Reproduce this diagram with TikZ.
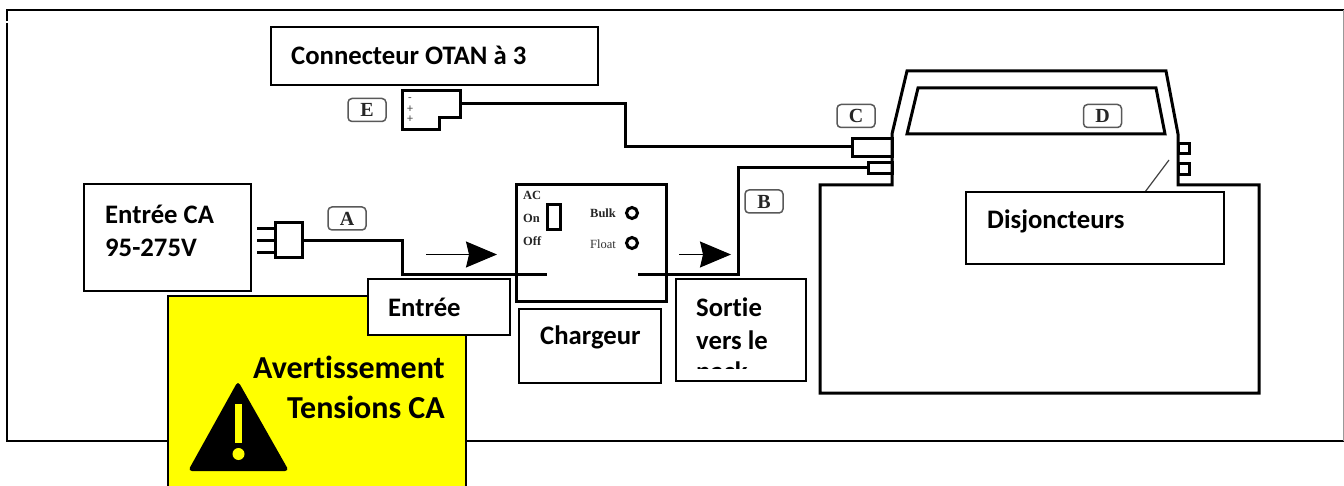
\documentclass[tikz,border=0pt]{standalone}
\usepackage{fontspec}
\setmainfont[Ligatures=NoCommon]{Carlito}
\newfontfamily\serifdraw{Liberation Serif}
\usetikzlibrary{arrows.meta}
\definecolor{warnyellow}{RGB}{255,255,0}
\tikzset{
  x=1pt,y=-1pt,
  wire/.style={line width=3pt,line join=miter},
  thin wire/.style={line width=1.2pt},
  boxlab/.style={draw=black,line width=1.8pt,fill=white},
  lab/.style={font=\bfseries\fontsize{26.7}{30}\selectfont,anchor=west,inner sep=0pt},
  tag/.style={draw=black!65,line width=1.5pt,rounded corners=4pt,minimum width=38pt,minimum height=23pt,inner sep=0pt,font=\serifdraw\bfseries\fontsize{20}{20}\selectfont,text=black!85},
  panel/.style={font=\serifdraw\bfseries\fontsize{12.5}{13}\selectfont,anchor=west,inner sep=0pt,text=black!85},
  lamp/.style={circle,draw=black,line width=3pt,minimum size=11pt,inner sep=0pt},
  flow/.style={thin wire,-{Stealth[length=31pt,width=26pt,inset=3pt]}},
}
\begin{document}
\begin{tikzpicture}
\useasboundingbox (0,0) rectangle (1344,486);
\fill[white] (0,0) rectangle (1344,486);
% frame
\draw[line width=2pt] (1344,10.5) -- (6.5,10.5) -- (6.5,21);
\draw[line width=2pt] (6.5,23) -- (6.5,441) -- (1344,441);
\draw[line width=1.2pt,black!40] (1343.5,10.5) -- (1343.5,441);
% named points
\coordinate (plugR) at (302,241);
\coordinate (chgIn) at (547,275);
\coordinate (chgOut) at (638,275);
\coordinate (connE) at (460,104);
\coordinate (cG) at (852,147);
\coordinate (cB) at (868,168);
% charger
\node[draw,line width=3pt,minimum width=150pt,minimum height=117pt,inner sep=0pt] (charger) at (591,243.5) {};
\node[panel] (tAC) at (523,195) {AC};
\node[panel] (tOn) at (523,218) {On};
\node[panel] (tOff) at (523,241) {Off};
\node[draw,line width=3pt,minimum width=13pt,minimum height=25pt,inner sep=0pt] (switch) at (553.5,217.5) {};
\node[panel] (tBulk) at (590,213) {Bulk};
\node[panel,font=\serifdraw\fontsize{12.5}{13}\selectfont,text=black!80] (tFloat) at (590,244) {Float};
\node[lamp] (bulk) at (632,213) {};
\node[lamp] (float) at (632,243) {};
% plug
\node[draw,line width=3pt,minimum width=27pt,minimum height=35pt,inner sep=0pt] (plug) at (288.5,240.5) {};
\draw[wire] (257,229) -- (275,229) (257,241) -- (275,241) (257,253) -- (275,253);
\draw[wire] (plugR) -- (402,241) -- (402,275) -- (chgIn);
\draw[wire] (chgOut) -- (738,275) -- (738,168) -- (cB);
\draw[wire] (connE) -- (625,104) -- (625,147) -- (cG);
% connector E
\draw[wire,fill=white] (402,91) -- (460,91) -- (460,118) -- (439,118) -- (439,130) -- (402,130) -- cycle;
\node[inner sep=0pt,font=\fontsize{12}{12}\selectfont,text=black!70] (sm) at (410,100) {-};
\node[inner sep=0pt,font=\fontsize{12}{12}\selectfont,text=black!70] (sp1) at (410,109) {+};
\node[inner sep=0pt,font=\fontsize{12}{12}\selectfont,text=black!70] (sp2) at (410,119) {+};
% flow arrows
\coordinate (f1a) at (426,254.5); \coordinate (f1b) at (497,254.5);
\coordinate (f2a) at (679,254.5); \coordinate (f2b) at (731,254.5);
\draw[flow] (f1a) -- (f1b);
\draw[flow] (f2a) -- (f2b);
% pack
\draw[wire] (820,185) -- (892,185) -- (892,134) -- (907,71) -- (1166,71) -- (1178,134) -- (1178,185) -- (1259,185) -- (1259,393) -- (820,393) -- cycle;
\draw[wire] (918,88) -- (1156,88) -- (1165,134) -- (907,134) -- cycle;
\draw[wire] (852,139) rectangle (892,157);
\draw[wire] (868,163) rectangle (892,174);
\draw[wire] (1178,144) rectangle (1189,154);
\draw[wire] (1178,164) rectangle (1189,175);
\coordinate (brk) at (1169,160);
\coordinate (brkEnd) at (1145,192);
\draw[line width=1.2pt,black!75] (brk) -- (brkEnd);
% tags
\node[tag] (A) at (347,218.5) {A};
\node[tag] (B) at (764,201.5) {B};
\node[tag] (C) at (856,116) {C};
\node[tag] (D) at (1102.5,116) {D};
\node[tag] (E) at (367,110) {E};
% warning
\draw[boxlab,fill=warnyellow] (168,296) rectangle (466,500);
\fill[black,rounded corners=4pt] (238,381) -- (289,471) -- (188,471) -- cycle;
\fill[warnyellow] (235,404) rectangle (242,443);
\fill[warnyellow] (238.5,454) circle (6);
\node[font=\bfseries\fontsize{32}{36}\selectfont,anchor=east,inner sep=0pt] (w1) at (445,367) {Avertissement};
\node[font=\bfseries\fontsize{32}{36}\selectfont,anchor=east,inner sep=0pt] (w2) at (445,407) {Tensions CA};
% text boxes
\draw[boxlab] (271,27) rectangle (598,85);
\node[lab] (tConn) at (291,55) {Connecteur OTAN à 3};
\draw[boxlab] (84,184) rectangle (251,291);
\node[lab] (tCA1) at (105,214) {Entrée CA};
\node[lab] (tCA2) at (105,248) {95-275V};
\draw[boxlab] (368,279) rectangle (510,335);
\node[lab] (tIn) at (388,307) {Entrée};
\draw[boxlab] (519,309) rectangle (661,383);
\node[lab] (tChg) at (540,337) {Chargeur};
\draw[boxlab] (676,279) rectangle (806,381);
\node[lab] (tS1) at (696,307) {Sortie};
\node[lab] (tS2) at (696,340) {vers le};
\begin{scope}
\clip (677,360) rectangle (805,368);
\node[lab] (tS3) at (696,373) {pack};
\end{scope}
\draw[boxlab] (966,192) rectangle (1224,264);
\node[lab] (tDis) at (987,221) {Disjoncteurs};
\end{tikzpicture}
\end{document}
